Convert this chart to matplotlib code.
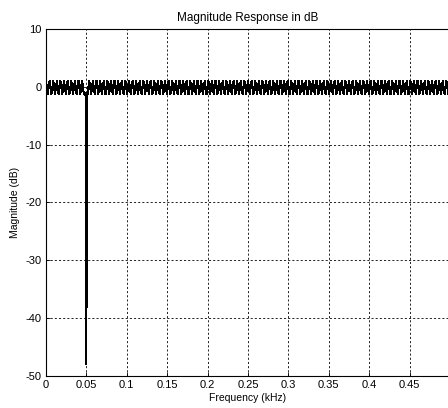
import numpy as np
import matplotlib.pyplot as plt

plt.rcParams['font.family'] = ['Liberation Sans', 'DejaVu Sans']
plt.rcParams['axes.unicode_minus'] = False

# passband ripple (dB) and how many cycles across 0..0.5 kHz
ripple_top = 1.1
ripple_bottom = -1.3
ripple_cycles = 112

# notch around 0.05 kHz
notch_freq = [0.0488, 0.0493, 0.0496, 0.0499, 0.0500, 0.0501, 0.0503, 0.0505, 0.0508]
notch_db = [-1.0, -4.5, -2.0, -10.0, -48.0, -38.0, -10.0, -38.0, -1.0]

xticks = [0, 0.05, 0.1, 0.15, 0.2, 0.25, 0.3, 0.35, 0.4, 0.45, 0.5]
# the 0.5 label falls outside the picture in the reference
xtick_labels = ['0', '0.05', '0.1', '0.15', '0.2', '0.25', '0.3', '0.35', '0.4', '0.45', '']
yticks = [-50, -40, -30, -20, -10, 0, 10]

f = np.linspace(0, 0.5, 2 * ripple_cycles + 1)
mag = np.where(np.arange(len(f)) % 2 == 0, ripple_top, ripple_bottom)
keep = (f < notch_freq[0]) | (f > notch_freq[-1])
f = np.concatenate([f[keep], notch_freq])
mag = np.concatenate([mag[keep], notch_db])
order = np.argsort(f)
f, mag = f[order], mag[order]

fig = plt.figure(figsize=(4.48, 4.08), dpi=100)
ax = fig.add_axes([46 / 448, 1 - 376 / 408, 404 / 448, 347 / 408])
ax.plot(f, mag, color='black', lw=0.7, antialiased=False)

ax.set_xlim(0, 0.5)
ax.set_ylim(-50, 10)
ax.set_xticks(xticks)
ax.set_xticklabels(xtick_labels)
ax.set_yticks(yticks)
ax.grid(True, color='black', linestyle=(0, (2.5, 2.5)), linewidth=0.6)
ax.tick_params(direction='in', length=3, width=0.6, labelsize=8, pad=3)
for s in ax.spines.values():
    s.set_linewidth(0.8)

ax.set_title('Magnitude Response in dB', fontsize=8.5, pad=6)
ax.set_xlabel('Frequency (kHz)', fontsize=7.5, labelpad=2)
ax.set_ylabel('Magnitude (dB)', fontsize=7.5, labelpad=4)

plt.savefig('out.png', dpi=100)
